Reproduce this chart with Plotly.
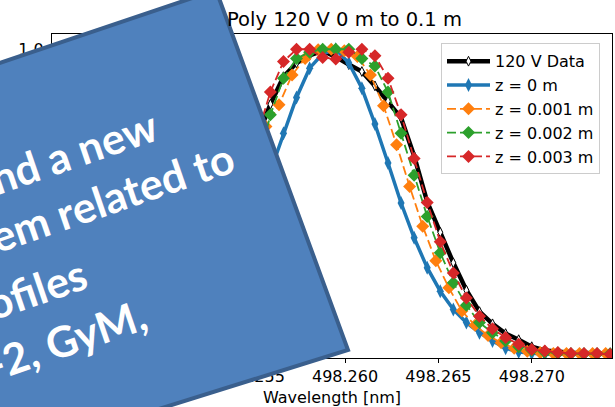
import plotly.graph_objects as go

# ---- data -------------------------------------------------------------
wavelength = [498.2490, 498.2497, 498.2504, 498.2511, 498.2518, 498.2525, 498.2532,
              498.2539, 498.2546, 498.2553, 498.2560, 498.2567, 498.2574, 498.2581,
              498.2588, 498.2595, 498.2602, 498.2609, 498.2616, 498.2623, 498.2630,
              498.2637, 498.2644, 498.2651, 498.2658, 498.2665, 498.2672, 498.2679,
              498.2686, 498.2693, 498.2700, 498.2707, 498.2714, 498.2721, 498.2728,
              498.2735, 498.2742]

wavelength_z001 = [498.24876, 498.24946, 498.25016, 498.25086, 498.25156, 498.25226,
                   498.25296, 498.25366, 498.25436, 498.25506, 498.25576, 498.25646,
                   498.25716, 498.25786, 498.25856, 498.25926, 498.25996, 498.26066,
                   498.26136, 498.26206, 498.26276, 498.26346, 498.26416, 498.26486,
                   498.26556, 498.26626, 498.26696, 498.26766, 498.26836, 498.26906,
                   498.26976, 498.27046, 498.27116, 498.27186, 498.27256, 498.27326,
                   498.27396]

data_120v = [0.02, 0.04, 0.06, 0.10, 0.15, 0.23, 0.33, 0.45, 0.58, 0.71,
             0.82, 0.91, 0.955, 0.98, 0.995, 0.975, 0.95, 0.927, 0.88, 0.83,
             0.775, 0.65, 0.50, 0.40, 0.30, 0.21, 0.14, 0.10, 0.068, 0.048,
             0.025, 0.013, 0.008, 0.005, 0.004, 0.003, 0.002]

z_0 = [0.015, 0.025, 0.04, 0.065, 0.095, 0.135, 0.19, 0.27, 0.36, 0.47,
       0.60, 0.725, 0.842, 0.938, 0.985, 1.0, 0.955, 0.872, 0.755, 0.627,
       0.496, 0.382, 0.284, 0.207, 0.147, 0.104, 0.071, 0.044, 0.02, 0.008,
       0.003, 0.0, 0.0, 0.0, 0.0, 0.0, 0.0]

z_001 = [0.01, 0.017, 0.03, 0.05, 0.08, 0.125, 0.19, 0.28, 0.40, 0.57,
         0.747, 0.818, 0.916, 0.970, 0.998, 1.0, 0.995, 0.976, 0.916, 0.815,
         0.687, 0.55, 0.42, 0.307, 0.218, 0.142, 0.095, 0.062, 0.038, 0.02,
         0.01, 0.005, 0.003, 0.003, 0.003, 0.003, 0.003]

z_002 = [0.012, 0.02, 0.035, 0.055, 0.085, 0.13, 0.20, 0.30, 0.44, 0.61,
         0.785, 0.905, 0.97, 0.99, 1.0, 1.0, 1.0, 0.97, 0.945, 0.86,
         0.725, 0.587, 0.452, 0.333, 0.235, 0.161, 0.104, 0.071, 0.044, 0.025,
         0.013, 0.007, 0.004, 0.002, 0.002, 0.002, 0.002]

z_003 = [0.02, 0.035, 0.06, 0.09, 0.14, 0.21, 0.31, 0.43, 0.57, 0.72,
         0.86, 0.96, 1.0, 1.0, 0.973, 0.968, 0.99, 1.0, 0.979, 0.905,
         0.785, 0.642, 0.498, 0.369, 0.267, 0.185, 0.125, 0.084, 0.055, 0.033,
         0.016, 0.011, 0.006, 0.003, 0.003, 0.003, 0.0]

x_ticks = [498.245, 498.250, 498.255, 498.260, 498.265, 498.270]
y_ticks = [0.0, 0.2, 0.4, 0.6, 0.8, 1.0]

title_text = "Poly 120 V 0 m to 0.1 m"
slide_lines = ["nd a new", "em related to", "ofiles", "-2, GyM,"]

# ---- figure geometry (pixels) ----------------------------------------
W, H = 615, 407
L, R, T, B = 52, 3, 34, 49
PW, PH = W - L - R, H - T - B


def px(x):
    return (x - L) / PW


def py(y):
    return (H - B - y) / PH


FONT = "DejaVu Sans"
BLUE, ORANGE, GREEN, RED = "#1f77b4", "#ff7f0e", "#2ca02c", "#d62728"

fig = go.Figure()

fig.add_trace(go.Scatter(
    x=wavelength, y=data_120v, name="120 V Data", mode="lines+markers",
    line=dict(color="black", width=4.5),
    marker=dict(symbol="diamond-tall", size=7, color="white",
                line=dict(color="black", width=1)),
))
fig.add_trace(go.Scatter(
    x=wavelength, y=z_0, name="z = 0 m", mode="lines+markers",
    line=dict(color=BLUE, width=3.5),
    marker=dict(symbol="diamond-tall", size=10, color=BLUE),
))
for xs, ys, name, col in [(wavelength_z001, z_001, "z = 0.001 m", ORANGE),
                          (wavelength, z_002, "z = 0.002 m", GREEN),
                          (wavelength, z_003, "z = 0.003 m", RED)]:
    fig.add_trace(go.Scatter(
        x=xs, y=ys, name=name, mode="lines+markers",
        line=dict(color=col, width=1.8, dash="9px,4px"),
        marker=dict(symbol="diamond", size=10, color=col),
    ))

axis_common = dict(
    showgrid=False, zeroline=False, showline=True, mirror=True,
    linecolor="black", linewidth=1, ticks="outside", ticklen=4,
    tickcolor="black", tickfont=dict(family=FONT, size=16, color="black"),
)

# rotated slide panel drawn over the left part of the chart
corners = [(216, -10), (348, 350), (-418, 589), (-418, 204)]
path = "M " + " L ".join(f"{px(x):.5f},{py(y):.5f}" for x, y in corners) + " Z"
shapes = [dict(type="path", path=path, xref="paper", yref="paper", layer="above",
               fillcolor="#4F81BD", line=dict(color="#3A5F8D", width=4))]

line_centres = [(73.2, 151.2), (112.4, 196.8), (36.1, 288.1), (66.0, 339.7)]
annotations = [
    dict(text=t, x=px(cx), y=py(cy), xref="paper", yref="paper",
         xanchor="center", yanchor="middle", showarrow=False, textangle=-19,
         font=dict(family="Lato", size=43, color="white", weight="bold"))
    for t, (cx, cy) in zip(slide_lines, line_centres)
]

fig.update_layout(
    width=W, height=H, autosize=False,
    margin=dict(l=L, r=R, t=T, b=B),
    paper_bgcolor="white", plot_bgcolor="white",
    font=dict(family=FONT, size=16, color="black"),
    title=dict(text=title_text, xref="paper", x=px(227), xanchor="left",
               yref="container", y=1 - 19.5 / H, yanchor="middle",
               font=dict(family=FONT, size=19.5, color="black")),
    xaxis=dict(range=[498.2443, 498.2743], tickvals=x_ticks,
               ticktext=[f"{v:.3f}" for v in x_ticks],
               title=dict(text="Wavelength [nm]", standoff=6,
                          font=dict(family=FONT, size=16, color="black")),
               **axis_common),
    yaxis=dict(range=[-0.012, 1.05], tickvals=y_ticks,
               ticktext=[f"{v:.1f}" for v in y_ticks], **axis_common),
    legend=dict(x=px(600), xanchor="right", y=py(43.3), yanchor="top",
                bgcolor="rgba(255,255,255,0.8)", bordercolor="#cccccc",
                borderwidth=1, font=dict(family=FONT, size=16, color="black"),
                tracegroupgap=0, itemwidth=43),
    shapes=shapes,
    annotations=annotations,
    showlegend=True,
)

fig.write_html("out.html")
